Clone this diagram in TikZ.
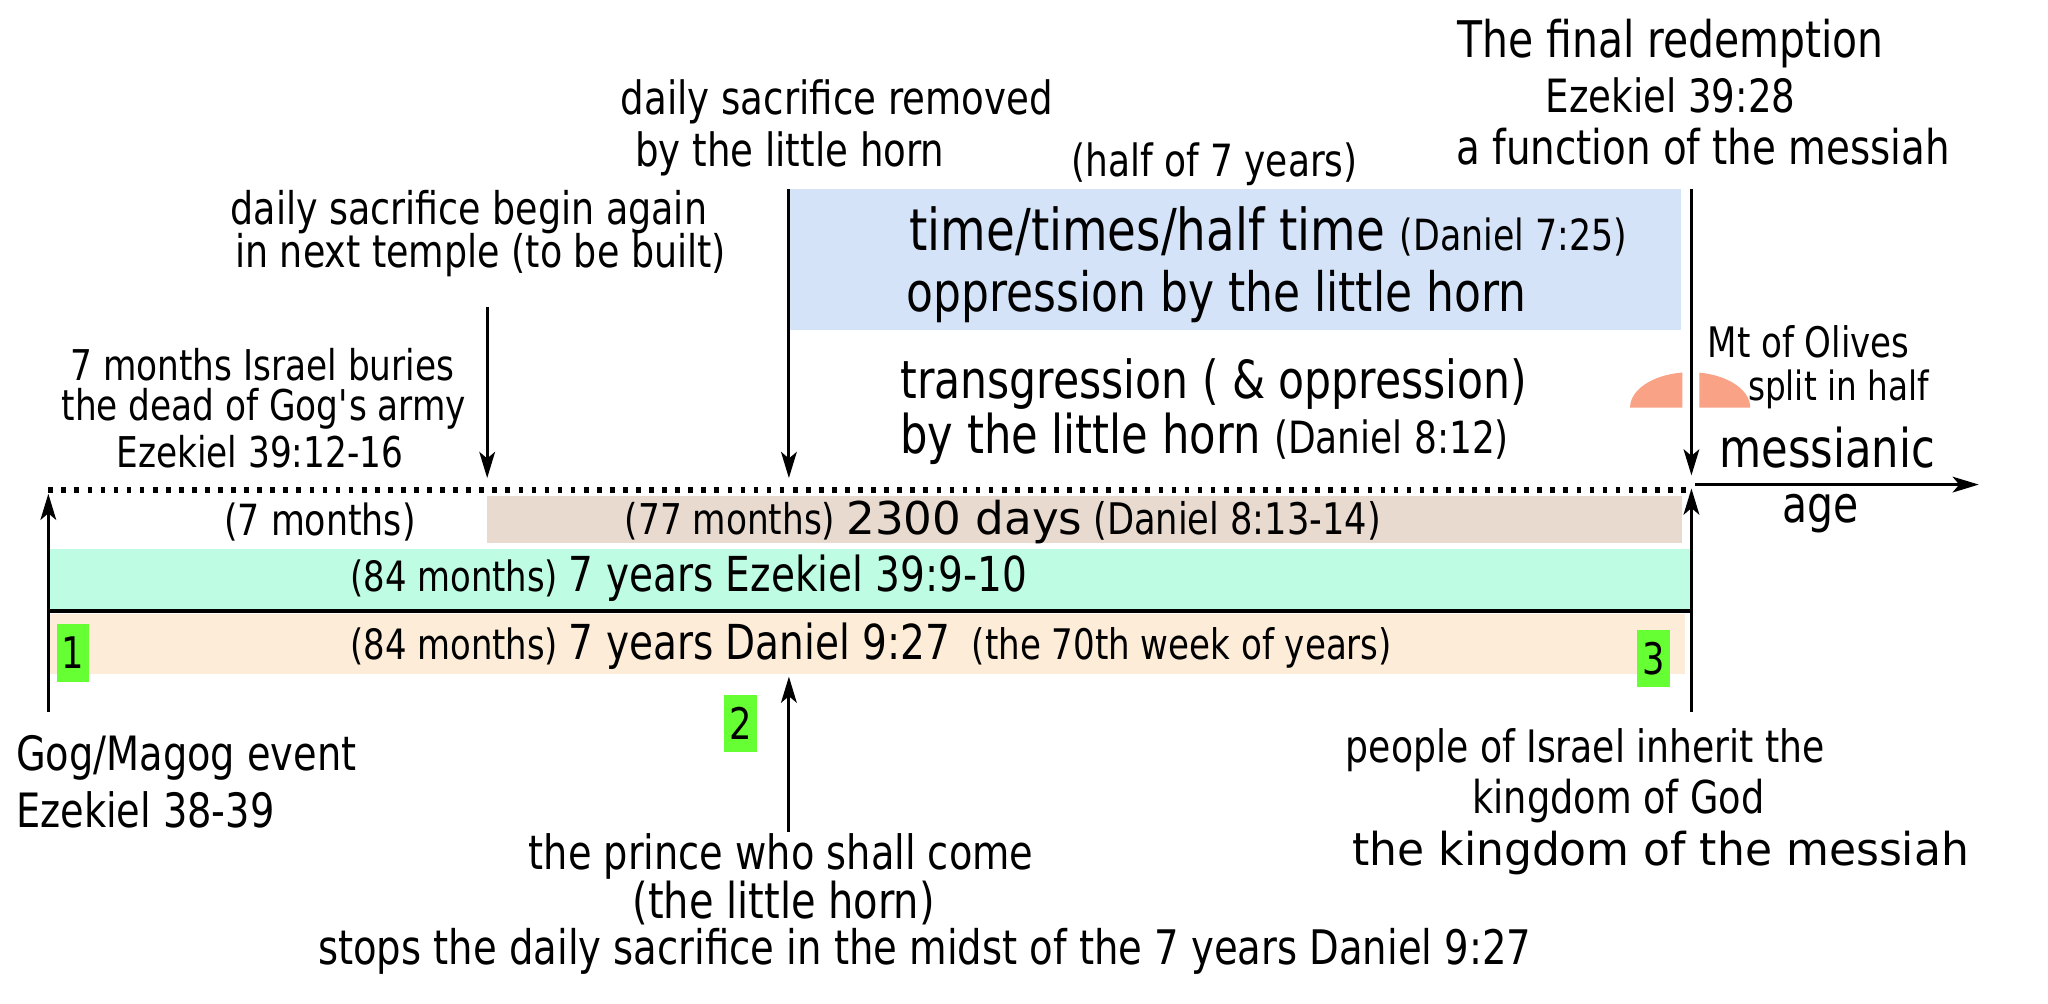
\documentclass[tikz,border=0pt]{standalone}
\usepackage{fontspec}
\usepackage{graphicx}
\setmainfont{DejaVu Sans Condensed}[FakeStretch=0.9]
\newfontfamily\widefont{DejaVu Sans}
\usetikzlibrary{arrows.meta}
\definecolor{bluebox}{RGB}{213,227,248}
\definecolor{tanband}{RGB}{232,218,206}
\definecolor{mintband}{RGB}{190,252,228}
\definecolor{peachband}{RGB}{253,236,216}
\definecolor{greenbox}{RGB}{102,255,51}
\definecolor{salmon}{RGB}{250,162,134}
\newcommand{\fs}[1]{\fontsize{\fpeval{#1/0.9}}{\fpeval{#1/0.9}}\selectfont}
\newcommand{\fsw}[1]{\fontsize{#1}{#1}\selectfont}
\tikzset{
  arr/.style={line width=1.2pt,-{Stealth[length=10pt,width=6pt,inset=2.5pt]}},
  lab/.style={inner sep=0pt},
  num/.style={fill=greenbox,inner sep=0pt,minimum width=12.5pt,minimum height=22pt,font=\fs{15}},
}
\begin{document}
\begin{tikzpicture}[x=0.5pt,y=-0.5pt]
\useasboundingbox (0,0) rectangle (1568,768);
% bands
\fill[bluebox] (605,145) rectangle (1287,253);
\fill[tanband] (373,380) rectangle (1288,416);
\fill[mintband] (37,420) rectangle (1295,466);
\fill[peachband] (37,470) rectangle (1290,516);
\draw[line width=1.5pt] (37,467.5) -- (1295,467.5);
% dotted line
\draw[line width=2.5pt,dash pattern=on 1.8pt off 3.2pt] (37,375) -- (1293,375);
% dome (Mt of Olives)
\begin{scope}
\clip (1240,270) rectangle (1288,314) (1301,270) rectangle (1350,314);
\fill[salmon] (1248,312) arc[start angle=180,end angle=0,x radius=23pt,y radius=13.5pt] -- cycle;
\end{scope}
% coordinates for connectors
\coordinate (Lbot) at (37,545);
\coordinate (Ltop) at (37,378);
\coordinate (Rtop) at (1295,145);
\coordinate (Rmid) at (1295,364);
\coordinate (Rbot) at (1295,545);
\coordinate (Rup) at (1295,374);
\coordinate (Mstart) at (1298,371);
\coordinate (Mend) at (1515,371);
\coordinate (Atop) at (373,235);
\coordinate (Abot) at (373,366);
\coordinate (Btop) at (604,145);
\coordinate (Bbot) at (604,366);
\coordinate (Pbot) at (604,637);
\coordinate (Ptop) at (604,518);
\draw[arr] (Lbot) -- (Ltop);
\draw[arr] (Rtop) -- (Rmid);
\draw[arr] (Rbot) -- (Rup);
\draw[arr] (Mstart) -- (Mend);
\draw[arr] (Atop) -- (Abot);
\draw[arr] (Btop) -- (Bbot);
\draw[arr] (Pbot) -- (Ptop);
% texts
\node[lab,font=\fs{14.6}] (buries1) at (201,279) {7 months Israel buries};
\node[lab,font=\fs{14.6}] (buries2) at (202,313) {the dead of Gog\textquotesingle s army};
\node[lab,font=\fs{14.6}] (buries3) at (199,346) {Ezekiel 39:12-16};
\node[lab,font=\fs{15.5}] (temple1) at (359,162) {daily sacrifice begin again};
\node[lab,font=\fs{15.5}] (temple2) at (368,195) {in next temple (to be built)};
\node[lab,anchor=west,font=\fs{15.8}] (removed1) at (475,78) {daily sacrifice removed};
\node[lab,anchor=west,font=\fs{15.8}] (removed2) at (486,118) {by the little horn};
\node[lab,font=\fs{15.3}] (half) at (930,126) {(half of 7 years)};
\node[lab,anchor=west,font=\fs{19.9}] (time) at (696,177) {time/times/half time {\fs{14.8}(Daniel 7:25)}};
\node[lab,anchor=west,font=\fs{18.7}] (opp) at (694,227) {oppression by the little horn};
\node[lab,anchor=west,font=\fs{18.1}] (trans1) at (689,294) {transgression ( \& oppression)};
\node[lab,anchor=west,font=\fs{18.4}] (trans2) at (689,336) {by the little horn {\fs{15.3}(Daniel 8:12)}};
\node[lab,font=\fs{17.4}] (final1) at (1279,33) {The final redemption};
\node[lab,font=\fs{15.8}] (final2) at (1279,73) {Ezekiel 39:28};
\node[lab,font=\fs{16.5}] (final3) at (1304,112) {a function of the messiah};
\node[lab,anchor=west,font=\fs{14.5}] (mt1) at (1307,262) {Mt of Olives};
\node[lab,anchor=west,font=\fs{13.9}] (mt2) at (1338,298) {split in half};
\node[lab,font=\fs{18.4}] (mess) at (1399,343) {messianic};
\node[lab,font=\fs{17.4}] (age) at (1394,393) {age};
\node[lab,font=\fs{14.8}] (sevenm) at (245,400) {(7 months)};
\node[lab,anchor=west,font=\fs{14.6}] (days) at (478,400) {(77 months) {\widefont\fsw{17.3}2300 days} {\fs{15}(Daniel 8:13-14)}};
\node[lab,anchor=west,font=\fs{14.4}] (ezek) at (268,443) {(84 months) {\fs{16.6}7 years Ezekiel 39:9-10}};
\node[lab,anchor=west,font=\fs{14.4}] (dan) at (268,495) {(84 months) {\fs{16.6}7 years Daniel 9:27}\ \ {\fs{14.5}(the 70th week of years)}};
\node[num] (n1) at (56,500) {1};
\node[num] (n2) at (567,554) {2};
\node[num] (n3) at (1266,504) {3};
\node[lab,anchor=west,font=\fs{16.3}] (gog1) at (12,580) {Gog/Magog event};
\node[lab,anchor=west,font=\fs{16.3}] (gog2) at (12,620) {Ezekiel 38-39};
\node[lab,font=\fs{16.3}] (prince1) at (598,656) {the prince who shall come};
\node[lab,font=\fs{17}] (prince2) at (600,691) {(the little horn)};
\node[lab,font=\fs{16.4}] (stops) at (708,728) {stops the daily sacrifice in the midst of the 7 years Daniel 9:27};
\node[lab,anchor=west,font=\fs{15.4}] (people1) at (1030,574) {people of Israel inherit the};
\node[lab,anchor=west,font=\fs{15.6}] (people2) at (1127,613) {kingdom of God};
\node[lab,anchor=west,font=\fs{15.6}] (people3) at (1035,653) {\scalebox{1.2}[1]{the kingdom of the messiah}};
\end{tikzpicture}
\end{document}
